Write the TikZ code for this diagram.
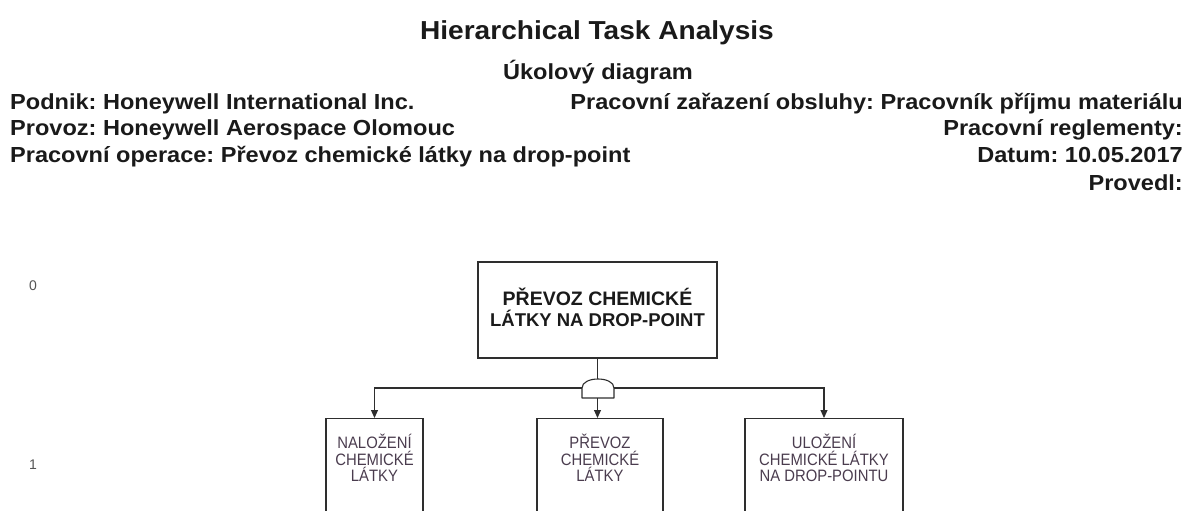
\documentclass[tikz,border=0pt]{standalone}
\usepackage{fontspec}
\setmainfont{Liberation Sans}
\newfontfamily\hdrfont{Liberation Sans}[FakeStretch=1.08]
\newfontfamily\condfont{Liberation Sans}[FakeStretch=0.9]
\usetikzlibrary{arrows.meta}
\definecolor{txt}{HTML}{1A1A1A}
\definecolor{ln}{HTML}{2E2E2E}
\definecolor{ctxt}{HTML}{4A3C4E}
\definecolor{lvl}{HTML}{555555}
\frenchspacing
\begin{document}
\begin{tikzpicture}[x=1pt,y=-1pt,
  hdr/.style={inner sep=0pt,text=txt,font=\hdrfont\fontsize{21.8}{26}\selectfont\bfseries},
  titlestyle/.style={inner sep=0pt,text=txt,font=\hdrfont\fontsize{26}{30}\selectfont\bfseries},
  lvlstyle/.style={inner sep=0pt,text=lvl,font=\fontsize{14}{16}\selectfont},
  topbox/.style={draw=ln,line width=1.1pt,minimum width=239pt,minimum height=96pt,inner sep=0pt},
  toptext/.style={align=center,inner sep=0pt,text=txt,font=\fontsize{19.5}{21}\selectfont\bfseries},
  childbox/.style={draw=ln,line width=1.1pt,minimum height=140pt,anchor=north,inner sep=0pt},
  childtxt/.style={align=center,inner sep=0pt,text=ctxt,font=\condfont\fontsize{16.5}{16.5}\selectfont},
  conn/.style={draw=ln,line width=1.1pt},
  arr/.style={conn,-{Triangle[width=7pt,length=8pt]}}
]
\useasboundingbox (0,0) rectangle (1186,511);
\clip (0,0) rectangle (1186,511);
% header
\node[titlestyle,anchor=base] (title) at (597,40) {Hierarchical Task Analysis};
\node[hdr,anchor=base] (sub) at (598,80) {Úkolový diagram};
\node[hdr,anchor=base west] (h1) at (10,110) {Podnik: Honeywell International Inc.};
\node[hdr,anchor=base west] (h2) at (10,135) {Provoz: Honeywell Aerospace Olomouc};
\node[hdr,anchor=base west] (h3) at (10,162) {Pracovní operace: Převoz chemické látky na drop-point};
\node[hdr,anchor=base east] (r1) at (1183,110) {Pracovní zařazení obsluhy: Pracovník příjmu materiálu};
\node[hdr,anchor=base east] (r2) at (1183,135) {Pracovní reglementy:};
\node[hdr,anchor=base east] (r3) at (1183,162) {Datum: 10.05.2017};
\node[hdr,anchor=base east] (r4) at (1183,190) {Provedl:};
% level labels
\node[lvlstyle] (l0) at (33,286) {0};
\node[lvlstyle] (l1) at (33,465) {1};
% top task
\node[topbox] (top) at (597.5,310) {};
\node[toptext] (toptxt) at (597.5,307) {PŘEVOZ CHEMICKÉ\\{\fontsize{18.5}{21}\selectfont LÁTKY NA DROP-POINT}};
% gate
\coordinate (gtop) at (597.5,379);
\coordinate (gbot) at (597.5,398);
\coordinate (gl) at (582,388);
\coordinate (gr) at (614,388);
\draw[conn,line join=round] (gl) .. controls (582,376) and (614,376) .. (gr) -- (614,398) -- (582,398) -- cycle;
% children
\node[childbox,minimum width=97pt] (c1) at (374.5,418) {};
\node[childbox,minimum width=126pt] (c2) at (600,418) {};
\node[childbox,minimum width=158pt] (c3) at (824,418) {};
\node[childtxt] (t1) at ([yshift=-40pt]c1.north) {NALOŽENÍ\\CHEMICKÉ\\LÁTKY};
\node[childtxt] (t2) at ([yshift=-40pt]c2.north) {PŘEVOZ\\CHEMICKÉ\\LÁTKY};
\node[childtxt] (t3) at ([yshift=-40pt]c3.north) {ULOŽENÍ\\CHEMICKÉ LÁTKY\\NA DROP-POINTU};
% connectors
\draw[conn] (top.south) -- (gtop);
\draw[arr] (gl) -| (c1.north);
\draw[arr] (gbot) -- (gbot |- c2.north);
\draw[arr] (gr) -| (c3.north);
\end{tikzpicture}
\end{document}
